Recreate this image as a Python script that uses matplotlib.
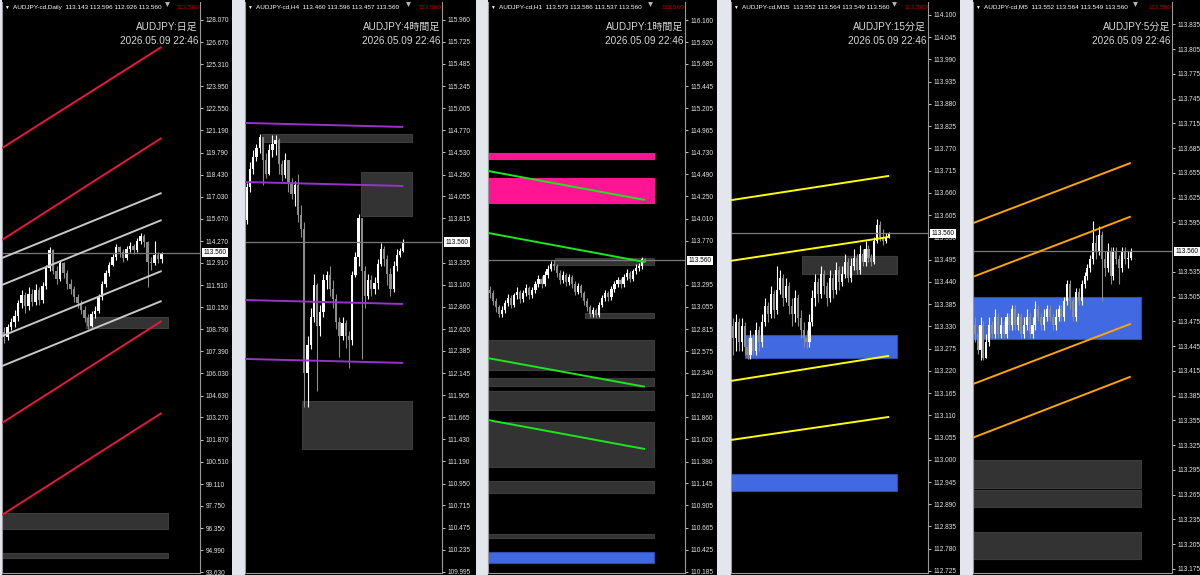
import matplotlib as mpl
from matplotlib import pyplot as plt
from matplotlib.patches import Rectangle
import matplotlib.transforms as mtrans
import numpy as np

mpl.rcParams['font.family'] = ['Liberation Sans', 'Noto Sans CJK JP', 'DejaVu Sans']

# ---------------- data ----------------
# Daily
d1_open0 = 108.6
d1_close = [108.3, 108.9, 109.2, 109.6, 110.4, 110.9, 110.2, 111.0, 110.5, 111.2,
            110.6, 111.5, 112.6, 113.7, 112.4, 111.9, 112.9, 112.3, 111.6, 111.3,
            110.8, 110.4, 110.0, 109.5, 109.0, 109.7, 109.9, 110.8, 111.6, 112.3,
            112.8, 113.3, 113.9, 113.6, 113.2, 113.8, 114.0, 113.7, 114.3, 114.6,
            114.2, 113.0, 112.9, 113.4, 113.143, 113.56]
d1_high = [108.9, 109.1, 109.5, 110.0, 110.6, 111.2, 111.1, 111.4, 111.3, 111.6,
           111.4, 111.7, 112.8, 113.9, 113.8, 112.7, 113.1, 113.0, 112.5, 111.9,
           111.5, 111.0, 110.6, 110.2, 109.7, 109.9, 110.2, 111.0, 111.8, 112.5,
           113.0, 113.5, 114.1, 114.0, 113.8, 114.0, 114.2, 114.1, 114.5, 114.8,
           114.7, 114.3, 113.3, 114.3, 113.6, 113.596]
d1_low = [107.9, 108.1, 108.7, 108.9, 109.3, 110.1, 109.8, 110.0, 110.2, 110.3,
          110.3, 110.4, 111.3, 112.4, 112.2, 111.6, 111.8, 112.0, 111.3, 111.0,
          110.5, 110.1, 109.7, 109.2, 108.8, 108.9, 109.5, 109.8, 110.6, 111.4,
          112.1, 112.7, 113.1, 113.3, 113.0, 113.1, 113.6, 113.5, 113.6, 114.1,
          113.9, 111.4, 112.5, 112.8, 112.93, 112.926]
d1_ticks = ['128.070', '126.670', '125.310', '123.950', '122.550', '121.190', '119.790',
            '118.430', '117.030', '115.670', '114.270', '112.910', '111.510', '110.150',
            '108.790', '107.390', '106.030', '104.630', '103.270', '101.870', '100.510',
            '99.110', '97.750', '96.350', '94.990', '93.630']
d1_lines = [(120.08, 126.39, '#e8173e'), (114.35, 120.71, '#e8173e'),
            (102.93, 109.29, '#e8173e'), (97.19, 103.55, '#e8173e'),
            (113.22, 117.28, '#c8c8c8'), (111.54, 115.59, '#c8c8c8'),
            (108.35, 112.41, '#c8c8c8'), (106.48, 110.54, '#c8c8c8')]
d1_boxes = [(23.4, 46.8, 108.85, 109.54, 'gray'), (None, 46.8, 96.31, 97.31, 'gray'),
            (None, 46.8, 94.50, 94.82, 'gray')]

# H4
h4_open0 = 113.80
h4_close = [114.15, 114.35, 114.48, 114.58, 114.70, 114.45, 114.30, 114.55, 114.62, 114.66,
            114.40, 114.28, 114.45, 114.20, 114.08, 114.18, 113.85, 113.70, 112.15, 112.45,
            112.75, 113.10, 112.65, 112.80, 113.15, 113.20, 113.05, 112.95, 112.70, 112.55,
            112.68, 112.55, 112.50, 113.20, 113.40, 113.82, 113.25, 112.98, 113.15, 113.05,
            113.12, 113.32, 113.48, 113.38, 113.22, 113.05, 113.30, 113.42, 113.46, 113.56]
h4_high = [114.20, 114.42, 114.55, 114.62, 114.73, 114.70, 114.52, 114.62, 114.72, 114.72,
           114.68, 114.45, 114.52, 114.40, 114.25, 114.22, 114.30, 113.96, 113.78, 112.55,
           112.85, 113.22, 113.12, 112.88, 113.22, 113.25, 113.30, 113.15, 113.00, 112.75,
           112.75, 112.72, 112.60, 113.25, 113.45, 113.86, 113.82, 113.30, 113.22, 113.20,
           113.18, 113.38, 113.55, 113.52, 113.42, 113.28, 113.35, 113.48, 113.50, 113.596]
h4_low = [113.75, 114.10, 114.30, 114.44, 114.52, 114.18, 114.25, 114.28, 114.48, 114.50,
          114.30, 114.22, 114.25, 114.10, 114.02, 113.95, 113.78, 113.62, 111.78, 111.78,
          112.40, 112.70, 111.95, 112.55, 112.75, 113.05, 112.98, 112.85, 112.62, 112.32,
          112.50, 112.42, 112.20, 112.45, 113.18, 113.30, 112.30, 112.85, 112.95, 112.98,
          113.00, 113.05, 113.30, 113.30, 113.10, 112.98, 113.02, 113.25, 113.40, 113.457]
# 113.575 sits behind the current price box, so it is left out
h4_ticks = ['115.960', '115.725', '115.485', '115.245', '115.005', '114.770', '114.530',
            '114.290', '114.055', '113.815', '113.335', '113.100', '112.860',
            '112.620', '112.385', '112.145', '111.905', '111.665', '111.430', '111.190',
            '110.950', '110.715', '110.475', '110.235', '109.995']
h4_lines = [(114.847, 114.804, '#9932cc'), (114.209, 114.166, '#9932cc'),
            (112.934, 112.891, '#9932cc'), (112.297, 112.254, '#9932cc')]
h4_boxes = [(4.7, 51.75, 114.642, 114.728, 'gray'), (35.8, 51.75, 113.842, 114.317, 'gray'),
            (17.3, 51.75, 111.324, 111.843, 'gray')]

# H1
h1_open0 = 113.24
h1_close = [113.20, 113.12, 113.05, 112.98, 113.02, 113.10, 113.15, 113.08, 113.18, 113.22,
            113.14, 113.20, 113.26, 113.18, 113.24, 113.30, 113.36, 113.30, 113.40, 113.47,
            113.52, 113.50, 113.42, 113.35, 113.40, 113.32, 113.38, 113.30, 113.22, 113.28,
            113.20, 113.12, 113.05, 112.98, 113.02, 112.97, 113.08, 113.15, 113.20, 113.16,
            113.25, 113.30, 113.35, 113.30, 113.38, 113.42, 113.36, 113.44, 113.48, 113.50,
            113.573, 113.56]
h1_high = [113.28, 113.24, 113.15, 113.08, 113.06, 113.13, 113.19, 113.18, 113.21, 113.27,
           113.24, 113.24, 113.30, 113.28, 113.27, 113.34, 113.40, 113.39, 113.44, 113.51,
           113.55, 113.56, 113.52, 113.45, 113.44, 113.42, 113.41, 113.40, 113.33, 113.31,
           113.30, 113.23, 113.15, 113.08, 113.05, 113.04, 113.11, 113.18, 113.24, 113.23,
           113.28, 113.34, 113.38, 113.37, 113.41, 113.46, 113.44, 113.47, 113.52, 113.53,
           113.60, 113.586]
h1_low = [113.15, 113.08, 113.00, 112.94, 112.95, 112.99, 113.06, 113.04, 113.05, 113.14,
          113.10, 113.11, 113.17, 113.14, 113.15, 113.21, 113.27, 113.26, 113.28, 113.37,
          113.44, 113.45, 113.38, 113.30, 113.31, 113.28, 113.29, 113.26, 113.18, 113.19,
          113.16, 113.08, 113.01, 112.94, 112.95, 112.94, 112.95, 113.05, 113.12, 113.12,
          113.13, 113.22, 113.27, 113.26, 113.27, 113.35, 113.32, 113.33, 113.41, 113.44,
          113.47, 113.537]
# 113.530 sits behind the current price box, so it is left out
h1_ticks = ['116.160', '115.920', '115.685', '115.445', '115.205', '114.965', '114.730',
            '114.490', '114.250', '114.010', '113.770', '113.295', '113.055',
            '112.815', '112.575', '112.340', '112.100', '111.860', '111.620', '111.380',
            '111.145', '110.905', '110.665', '110.425', '110.185']
h1_lines = [(114.526, 114.212, '#1ee61e'), (113.855, 113.540, '#1ee61e'),
            (112.500, 112.190, '#1ee61e'), (111.830, 111.516, '#1ee61e')]
h1_boxes = [(None, 54.0, 114.655, 114.720, 'pink'), (None, 54.0, 114.180, 114.450, 'pink'),
            (21.4, 54.0, 113.508, 113.584, 'gray'), (31.3, 54.0, 112.935, 112.990, 'gray'),
            (None, 54.0, 112.370, 112.696, 'gray'), (None, 54.0, 112.200, 112.285, 'gray'),
            (None, 54.0, 111.940, 112.144, 'gray'), (None, 54.0, 111.320, 111.810, 'gray'),
            (None, 54.0, 111.040, 111.170, 'gray'), (None, 54.0, 110.550, 110.600, 'gray'),
            (None, 54.0, 110.280, 110.400, 'blue')]

# M15
m15_open0 = 113.33
m15_close = [113.30, 113.34, 113.29, 113.33, 113.28, 113.26, 113.30, 113.27, 113.32, 113.29,
             113.34, 113.38, 113.36, 113.41, 113.37, 113.42, 113.45, 113.40, 113.43, 113.38,
             113.36, 113.40, 113.35, 113.32, 113.30, 113.29, 113.34, 113.40, 113.44, 113.41,
             113.46, 113.43, 113.40, 113.45, 113.42, 113.47, 113.44, 113.46, 113.49, 113.45,
             113.48, 113.50, 113.47, 113.51, 113.49, 113.52, 113.50, 113.49, 113.54, 113.58,
             113.55, 113.54, 113.552, 113.56]
m15_high = [113.35, 113.36, 113.35, 113.35, 113.34, 113.30, 113.32, 113.31, 113.34, 113.33,
            113.36, 113.40, 113.39, 113.43, 113.42, 113.48, 113.47, 113.46, 113.45, 113.44,
            113.40, 113.42, 113.41, 113.37, 113.34, 113.32, 113.36, 113.42, 113.46, 113.45,
            113.48, 113.47, 113.44, 113.47, 113.46, 113.49, 113.48, 113.48, 113.51, 113.50,
            113.50, 113.52, 113.51, 113.53, 113.52, 113.54, 113.53, 113.51, 113.55, 113.595,
            113.59, 113.57, 113.56, 113.564]
m15_low = [113.26, 113.27, 113.27, 113.27, 113.26, 113.25, 113.25, 113.26, 113.26, 113.27,
           113.28, 113.33, 113.34, 113.35, 113.35, 113.36, 113.41, 113.38, 113.39, 113.36,
           113.33, 113.34, 113.33, 113.30, 113.28, 113.277, 113.28, 113.33, 113.38, 113.39,
           113.40, 113.41, 113.38, 113.39, 113.40, 113.41, 113.42, 113.43, 113.45, 113.44,
           113.44, 113.47, 113.46, 113.46, 113.48, 113.48, 113.49, 113.48, 113.485, 113.535,
           113.54, 113.53, 113.535, 113.549]
m15_ticks = ['114.100', '114.045', '113.990', '113.935', '113.880', '113.825', '113.770',
             '113.715', '113.660', '113.605', '113.550', '113.495', '113.440', '113.385',
             '113.330', '113.275', '113.220', '113.165', '113.110', '113.055', '113.000',
             '112.945', '112.890', '112.835', '112.780', '112.725']
m15_lines = [(113.642, 113.702, '#ffff00'), (113.492, 113.551, '#ffff00'),
             (113.195, 113.257, '#ffff00'), (113.049, 113.106, '#ffff00')]
m15_boxes = [(23.5, 55.7, 113.460, 113.504, 'gray'), (4.1, 55.7, 113.252, 113.309, 'blue'),
             (None, 55.7, 112.923, 112.965, 'blue')]

# M5
m5_open0 = 113.47
m5_close = [113.46, 113.44, 113.47, 113.43, 113.45, 113.47, 113.46, 113.48, 113.46, 113.47,
            113.46, 113.48, 113.47, 113.49, 113.47, 113.48, 113.46, 113.47, 113.48, 113.46,
            113.47, 113.49, 113.48, 113.47, 113.48, 113.49, 113.48, 113.47, 113.48, 113.49,
            113.48, 113.50, 113.52, 113.50, 113.48, 113.51, 113.50, 113.52, 113.53, 113.54,
            113.55, 113.57, 113.56, 113.58, 113.55, 113.54, 113.56, 113.53, 113.56, 113.55,
            113.54, 113.56, 113.55, 113.552, 113.56]
m5_high = [113.48, 113.47, 113.48, 113.475, 113.46, 113.48, 113.475, 113.49, 113.485, 113.48,
           113.475, 113.485, 113.485, 113.495, 113.495, 113.485, 113.485, 113.48, 113.49, 113.485,
           113.48, 113.50, 113.495, 113.485, 113.49, 113.495, 113.495, 113.485, 113.49, 113.495,
           113.495, 113.505, 113.525, 113.525, 113.505, 113.515, 113.515, 113.525, 113.535, 113.545,
           113.555, 113.597, 113.58, 113.59, 113.585, 113.56, 113.57, 113.565, 113.565, 113.565,
           113.555, 113.565, 113.565, 113.56, 113.564]
m5_low = [113.45, 113.435, 113.428, 113.428, 113.43, 113.445, 113.455, 113.455, 113.455, 113.455,
          113.455, 113.455, 113.465, 113.465, 113.465, 113.465, 113.455, 113.455, 113.465, 113.455,
          113.455, 113.465, 113.475, 113.465, 113.465, 113.475, 113.475, 113.465, 113.465, 113.475,
          113.475, 113.475, 113.495, 113.49, 113.475, 113.475, 113.495, 113.495, 113.515, 113.525,
          113.535, 113.545, 113.55, 113.555, 113.50, 113.53, 113.535, 113.52, 113.525, 113.545,
          113.52, 113.535, 113.545, 113.54, 113.549]
# 113.565 sits mostly behind the current price box, so it is left out
m5_ticks = ['113.835', '113.805', '113.775', '113.745', '113.715', '113.685', '113.655',
            '113.625', '113.595', '113.535', '113.505', '113.475', '113.445',
            '113.415', '113.385', '113.355', '113.325', '113.295', '113.265', '113.235',
            '113.205', '113.175']
m5_lines = [(113.594, 113.667, '#ffa500'), (113.529, 113.602, '#ffa500'),
            (113.399, 113.472, '#ffa500'), (113.334, 113.408, '#ffa500')]
m5_boxes = [(None, 57.5, 113.454, 113.504, 'blue'), (None, 57.5, 113.273, 113.307, 'gray'),
            (None, 57.5, 113.250, 113.270, 'gray'), (None, 57.5, 113.187, 113.220, 'gray')]

price_now = 113.560
stamp = '2026.05.09 22:46'

# ---------------- layout ----------------
W, H = 1200, 575
box_colors = {'gray': ('#333333', '#3d3d3d'), 'pink': ('#ff1493', '#ff1493'),
              'blue': ('#4169e1', '#2f4fb0')}

panels = [
    dict(head='AUDJPY-cd,Daily  113.143 113.596 112.926 113.560', title='AUDJPY:日足',
         o0=d1_open0, c=d1_close, h=d1_high, l=d1_low, ticks=d1_ticks, lines=d1_lines,
         boxes=d1_boxes, ylim=(93.568, 129.193), L=2, R=200, E=232, sp=3.5),
    dict(head='AUDJPY-cd,H4  113.460 113.596 113.457 113.560', title='AUDJPY:4時間足',
         o0=h4_open0, c=h4_close, h=h4_high, l=h4_low, ticks=h4_ticks, lines=h4_lines,
         boxes=h4_boxes, ylim=(109.984, 116.154), L=245, R=442, E=476, sp=3.19),
    dict(head='AUDJPY-cd,H1  113.573 113.586 113.537 113.560', title='AUDJPY:1時間足',
         o0=h1_open0, c=h1_close, h=h1_high, l=h1_low, ticks=h1_ticks, lines=h1_lines,
         boxes=h1_boxes, ylim=(110.174, 116.355), L=488, R=685, E=717, sp=3.04),
    dict(head='AUDJPY-cd,M15  113.552 113.564 113.549 113.560', title='AUDJPY:15分足',
         o0=m15_open0, c=m15_close, h=m15_high, l=m15_low, ticks=m15_ticks, lines=m15_lines,
         boxes=m15_boxes, ylim=(112.720, 114.132), L=731, R=928, E=960, sp=2.95),
    dict(head='AUDJPY-cd,M5  113.552 113.564 113.549 113.560', title='AUDJPY:5分足',
         o0=m5_open0, c=m5_close, h=m5_high, l=m5_low, ticks=m5_ticks, lines=m5_lines,
         boxes=m5_boxes, ylim=(113.170, 113.862), L=973, R=1172, E=1200, sp=2.89),
]

fig = plt.figure(figsize=(12, 5.75), dpi=100, facecolor='#e3e7ed')
top_px, bot_px = 2, 573

for p in panels:
    # black area including the price scale
    fig.add_artist(Rectangle((p['L'] / W, 0), (p['E'] - p['L']) / W, 1,
                             transform=fig.transFigure, fc='black', ec='none', zorder=0))
    ax = fig.add_axes([p['L'] / W, (H - bot_px) / H, (p['R'] - p['L']) / W,
                       (bot_px - top_px) / H])
    ax.set_facecolor('black')
    n = len(p['c'])
    x0 = -0.6
    x1 = x0 + (p['R'] - p['L']) / p['sp']
    ax.set_xlim(x0, x1)
    ax.set_ylim(*p['ylim'])
    ppx = (p['ylim'][1] - p['ylim'][0]) / (bot_px - top_px)

    # zones
    for bx0, bx1, y0, y1, kind in p['boxes']:
        if bx0 is None:
            bx0 = x0
        fc, ec = box_colors[kind]
        ax.add_patch(Rectangle((bx0, y0), bx1 - bx0, y1 - y0, fc=fc, ec=ec, lw=0.8, zorder=1))

    # candles
    c = np.array(p['c'])
    o = np.array([p['o0']] + p['c'][:-1])
    hi = np.array(p['h'])
    lo = np.array(p['l'])
    xs = np.arange(n)
    cols = np.where(c >= o, '#ffffff', '#8c8c8c')
    ax.vlines(xs, lo, hi, colors=cols, lw=0.8, zorder=2)
    body = np.maximum(np.abs(c - o), ppx)
    ax.bar(xs, body, bottom=np.minimum(o, c), width=0.72, color=cols, lw=0, zorder=2)

    # trend lines
    for y0, y1, col in p['lines']:
        ax.plot([x0, n - 1], [y0, y1], color=col, lw=1.4, solid_capstyle='butt', zorder=3)

    ax.axhline(price_now, color='#7a7a7a', lw=0.9, zorder=2.5)

    # price scale
    ax.yaxis.tick_right()
    ax.set_yticks([float(t) for t in p['ticks']])
    ax.set_yticklabels(p['ticks'])
    ax.tick_params(axis='y', colors='#e6e6e6', labelsize=4.7, length=2.5, width=0.6, pad=1.5)
    ax.set_xticks([])
    for s in ['left', 'right', 'bottom']:
        ax.spines[s].set_color('#9a9a9a')
        ax.spines[s].set_linewidth(0.8)
    ax.spines['top'].set_visible(False)

    ax.annotate('113.560', xy=(1.0, price_now), xycoords=('axes fraction', 'data'),
                xytext=(2.5, 0), textcoords='offset points', ha='left', va='center',
                fontsize=4.7, color='black', zorder=5, annotation_clip=False,
                bbox=dict(boxstyle='square,pad=0.18', fc='white', ec='none'))

    # header line
    ax.text(2 / 198, 0.991, '▼', transform=ax.transAxes, fontsize=3.5, color='white',
            ha='left', va='center')
    ax.text(11 / 198, 0.991, p['head'], transform=ax.transAxes, fontsize=4.6,
            color='white', ha='left', va='center')
    ax.text(0.995, 0.991, '113.560', transform=ax.transAxes, fontsize=4.6,
            color='#c00000', ha='right', va='center')
    shift = mtrans.blended_transform_factory(ax.transData, ax.transAxes)
    ax.plot([n + 0.6], [0.997], marker='v', ms=3.5, color='#b8b8b8', mec='none',
            transform=shift, clip_on=False, zorder=5)

    # title
    ax.text(0.99, 0.956, p['title'], transform=ax.transAxes, fontsize=7.2,
            color='#d8d8d8', ha='right', va='center')
    ax.text(0.99, 0.932, stamp, transform=ax.transAxes, fontsize=7.2,
            color='#d8d8d8', ha='right', va='center')

fig.savefig('out.png', dpi=100, facecolor=fig.get_facecolor())
